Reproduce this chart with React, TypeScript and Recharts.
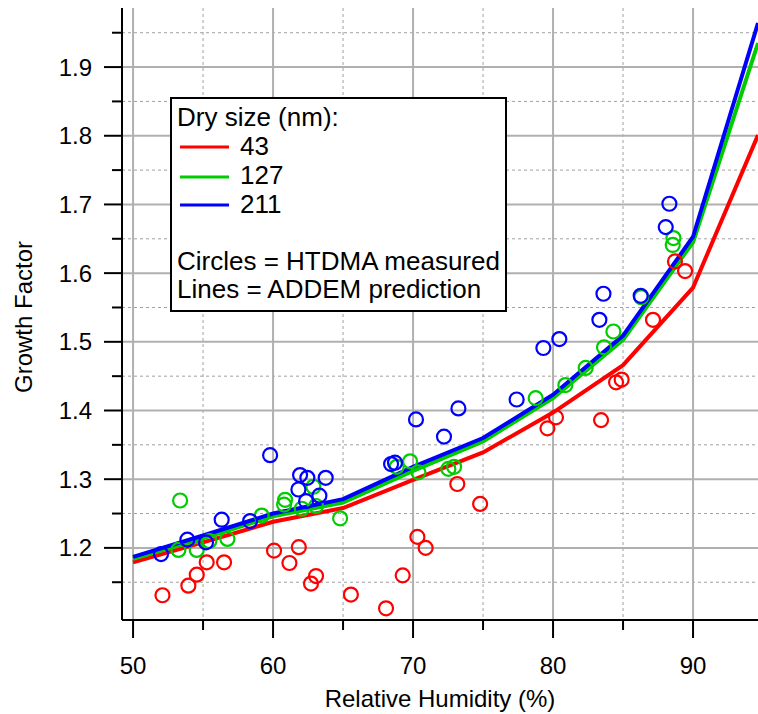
import React from 'react';
import {
  ComposedChart,
  Line,
  Scatter,
  XAxis,
  YAxis,
  CartesianGrid,
} from 'recharts';

// ADDEM prediction nodes (RH %, growth factor per dry size)
const rhNodes = [50, 55, 60, 65, 70, 75, 80, 85, 90, 94.64];
const pred43 = [1.179, 1.208, 1.238, 1.258, 1.299, 1.339, 1.397, 1.466, 1.579, 1.801];
const pred127 = [1.184, 1.214, 1.246, 1.266, 1.312, 1.355, 1.418, 1.503, 1.645, 1.935];
const pred211 = [1.187, 1.218, 1.25, 1.271, 1.318, 1.36, 1.423, 1.509, 1.653, 1.964];

// HTDMA measurements
const rh43 = [52.1, 53.95, 54.55, 55.26, 56.5, 60.07, 61.17, 61.84, 62.71, 63.07, 65.56, 68.07, 69.26, 70.31, 70.9, 73.16, 74.79, 79.6, 80.21, 83.43, 84.5, 84.9, 87.14, 88.71, 89.43];
const gf43 = [1.131, 1.145, 1.161, 1.179, 1.179, 1.196, 1.178, 1.201, 1.148, 1.159, 1.132, 1.112, 1.16, 1.216, 1.2, 1.293, 1.264, 1.374, 1.39, 1.386, 1.441, 1.445, 1.532, 1.617, 1.603];

const rh127 = [53.36, 53.24, 54.55, 55.45, 56.74, 59.19, 60.79, 60.86, 62.05, 62.88, 63.07, 64.79, 68.83, 69.79, 70.38, 72.52, 72.93, 78.76, 80.88, 82.33, 83.64, 84.31, 86.3, 88.55, 88.6];
const gf127 = [1.269, 1.197, 1.197, 1.21, 1.213, 1.247, 1.263, 1.27, 1.257, 1.289, 1.261, 1.243, 1.318, 1.326, 1.31, 1.315, 1.318, 1.418, 1.437, 1.462, 1.492, 1.515, 1.565, 1.641, 1.651];

const rh211 = [52.0, 53.88, 55.21, 56.33, 58.36, 59.79, 61.81, 61.93, 62.36, 62.45, 63.31, 63.76, 68.43, 68.71, 70.21, 72.21, 73.24, 77.4, 79.31, 80.45, 83.31, 83.6, 86.26, 88.05, 88.31];
const gf211 = [1.191, 1.212, 1.208, 1.241, 1.239, 1.335, 1.285, 1.306, 1.268, 1.302, 1.276, 1.302, 1.322, 1.324, 1.387, 1.362, 1.403, 1.416, 1.491, 1.504, 1.532, 1.57, 1.567, 1.667, 1.701];

const xTicks = [50, 55, 60, 65, 70, 75, 80, 85, 90];
const yTicks = [1.15, 1.2, 1.25, 1.3, 1.35, 1.4, 1.45, 1.5, 1.55, 1.6, 1.65, 1.7, 1.75, 1.8, 1.85, 1.9, 1.95];
const xMajor = [50, 60, 70, 80, 90];
const xMinor = [55, 65, 75, 85];
const yMajor = [1.2, 1.3, 1.4, 1.5, 1.6, 1.7, 1.8, 1.9];
const yMinor = [1.15, 1.25, 1.35, 1.45, 1.55, 1.65, 1.75, 1.85, 1.95];

const RED = '#ff0000';
const GREEN = '#00cc00';
const BLUE = '#0000ff';
const FONT = '"Liberation Sans", Arial, sans-serif';

const lineData = rhNodes.map((rh, i) => ({ rh, a: pred43[i], b: pred127[i], c: pred211[i] }));
const pts = (xs: number[], ys: number[]) => xs.map((rh, i) => ({ rh, gf: ys[i] }));

const isMajor = (v: number, step: number) => Math.abs(v / step - Math.round(v / step)) < 1e-6;

const XTick = (props: any) => {
  const { x, y, payload } = props;
  const major = isMajor(payload.value, 10);
  return (
    <g>
      <line x1={x} x2={x} y1={y} y2={y + (major ? 18 : 10)} stroke="#000" strokeWidth={2} />
      {major && (
        <text x={x} y={y + 54} textAnchor="middle" fontSize={24} fontFamily={FONT} fill="#000">
          {payload.value}
        </text>
      )}
    </g>
  );
};

const YTick = (props: any) => {
  const { x, y, payload } = props;
  const major = isMajor(payload.value, 0.1);
  return (
    <g>
      <line x1={x} x2={x - (major ? 18 : 10)} y1={y} y2={y} stroke="#000" strokeWidth={2} />
      {major && (
        <text x={x - 30} y={y + 8.5} textAnchor="end" fontSize={24} fontFamily={FONT} fill="#000">
          {payload.value.toFixed(1)}
        </text>
      )}
    </g>
  );
};

const ring = (color: string) => (props: any) => (
  <circle cx={props.cx} cy={props.cy} r={7} fill="none" stroke={color} strokeWidth={2.2} />
);

const legendText = { fontSize: 26, fontFamily: FONT, fill: '#000' };

const App = () => {
  return (
    <div style={{ position: 'absolute', left: 0, top: 0, width: 758, height: 714, background: '#fff' }}>
      <ComposedChart width={758} height={714} margin={{ top: 8, right: 0, bottom: 0, left: 0 }}>
        <CartesianGrid
          horizontalValues={yMinor}
          verticalValues={xMinor}
          stroke="#a0a0a0"
          strokeWidth={1}
          strokeDasharray="3 3"
        />
        <CartesianGrid horizontalValues={yMajor} verticalValues={xMajor} stroke="#b0b0b0" strokeWidth={2} />
        <XAxis
          type="number"
          dataKey="rh"
          domain={[49.21, 94.64]}
          ticks={xTicks}
          allowDataOverflow
          height={94}
          tickSize={0}
          tickMargin={0}
          tickLine={false}
          axisLine={{ stroke: '#000', strokeWidth: 2 }}
          tick={<XTick />}
          label={{
            content: ({ viewBox }: any) => (
              <text
                x={viewBox.x + viewBox.width / 2}
                y={viewBox.y + 87}
                textAnchor="middle"
                fontSize={24}
                fontFamily={FONT}
                fill="#000"
              >
                Relative Humidity (%)
              </text>
            ),
          }}
        />
        <YAxis
          type="number"
          domain={[1.095, 1.986]}
          ticks={yTicks}
          allowDataOverflow
          width={122}
          tickSize={0}
          tickMargin={0}
          tickLine={false}
          axisLine={{ stroke: '#000', strokeWidth: 2 }}
          tick={<YTick />}
          label={{
            content: ({ viewBox }: any) => {
              const cx = 23;
              const cy = viewBox.y + viewBox.height / 2 + 3;
              return (
                <text
                  x={cx}
                  y={cy}
                  transform={`rotate(-90 ${cx} ${cy})`}
                  textAnchor="middle"
                  dominantBaseline="central"
                  fontSize={24}
                  fontFamily={FONT}
                  fill="#000"
                >
                  Growth Factor
                </text>
              );
            },
          }}
        />
        <Line data={lineData} dataKey="a" stroke={RED} strokeWidth={4} dot={false} isAnimationActive={false} />
        <Line data={lineData} dataKey="b" stroke={GREEN} strokeWidth={4} dot={false} isAnimationActive={false} />
        <Line data={lineData} dataKey="c" stroke={BLUE} strokeWidth={4} dot={false} isAnimationActive={false} />
        <Scatter data={pts(rh43, gf43)} dataKey="gf" shape={ring(RED)} isAnimationActive={false} />
        <Scatter data={pts(rh127, gf127)} dataKey="gf" shape={ring(GREEN)} isAnimationActive={false} />
        <Scatter data={pts(rh211, gf211)} dataKey="gf" shape={ring(BLUE)} isAnimationActive={false} />
      </ComposedChart>
      <div
        style={{
          position: 'absolute',
          left: 170,
          top: 97,
          width: 337,
          height: 215,
          boxSizing: 'border-box',
          border: '2px solid #000',
          background: '#fff',
        }}
      >
        <svg width={333} height={211} style={{ position: 'absolute', left: 0, top: 0 }}>
          <g transform="translate(-172,-99)">
            <text x={177} y={126} {...legendText}>Dry size (nm):</text>
            <line x1={180} x2={229} y1={147} y2={147} stroke={RED} strokeWidth={3} />
            <text x={240} y={155} {...legendText}>43</text>
            <line x1={180} x2={229} y1={177} y2={177} stroke={GREEN} strokeWidth={3} />
            <text x={240} y={184} {...legendText}>127</text>
            <line x1={180} x2={229} y1={205} y2={205} stroke={BLUE} strokeWidth={3} />
            <text x={240} y={213} {...legendText}>211</text>
            <text x={177} y={270} {...legendText}>Circles = HTDMA measured</text>
            <text x={177} y={298} {...legendText}>Lines = ADDEM prediction</text>
          </g>
        </svg>
      </div>
    </div>
  );
};

export default App;
